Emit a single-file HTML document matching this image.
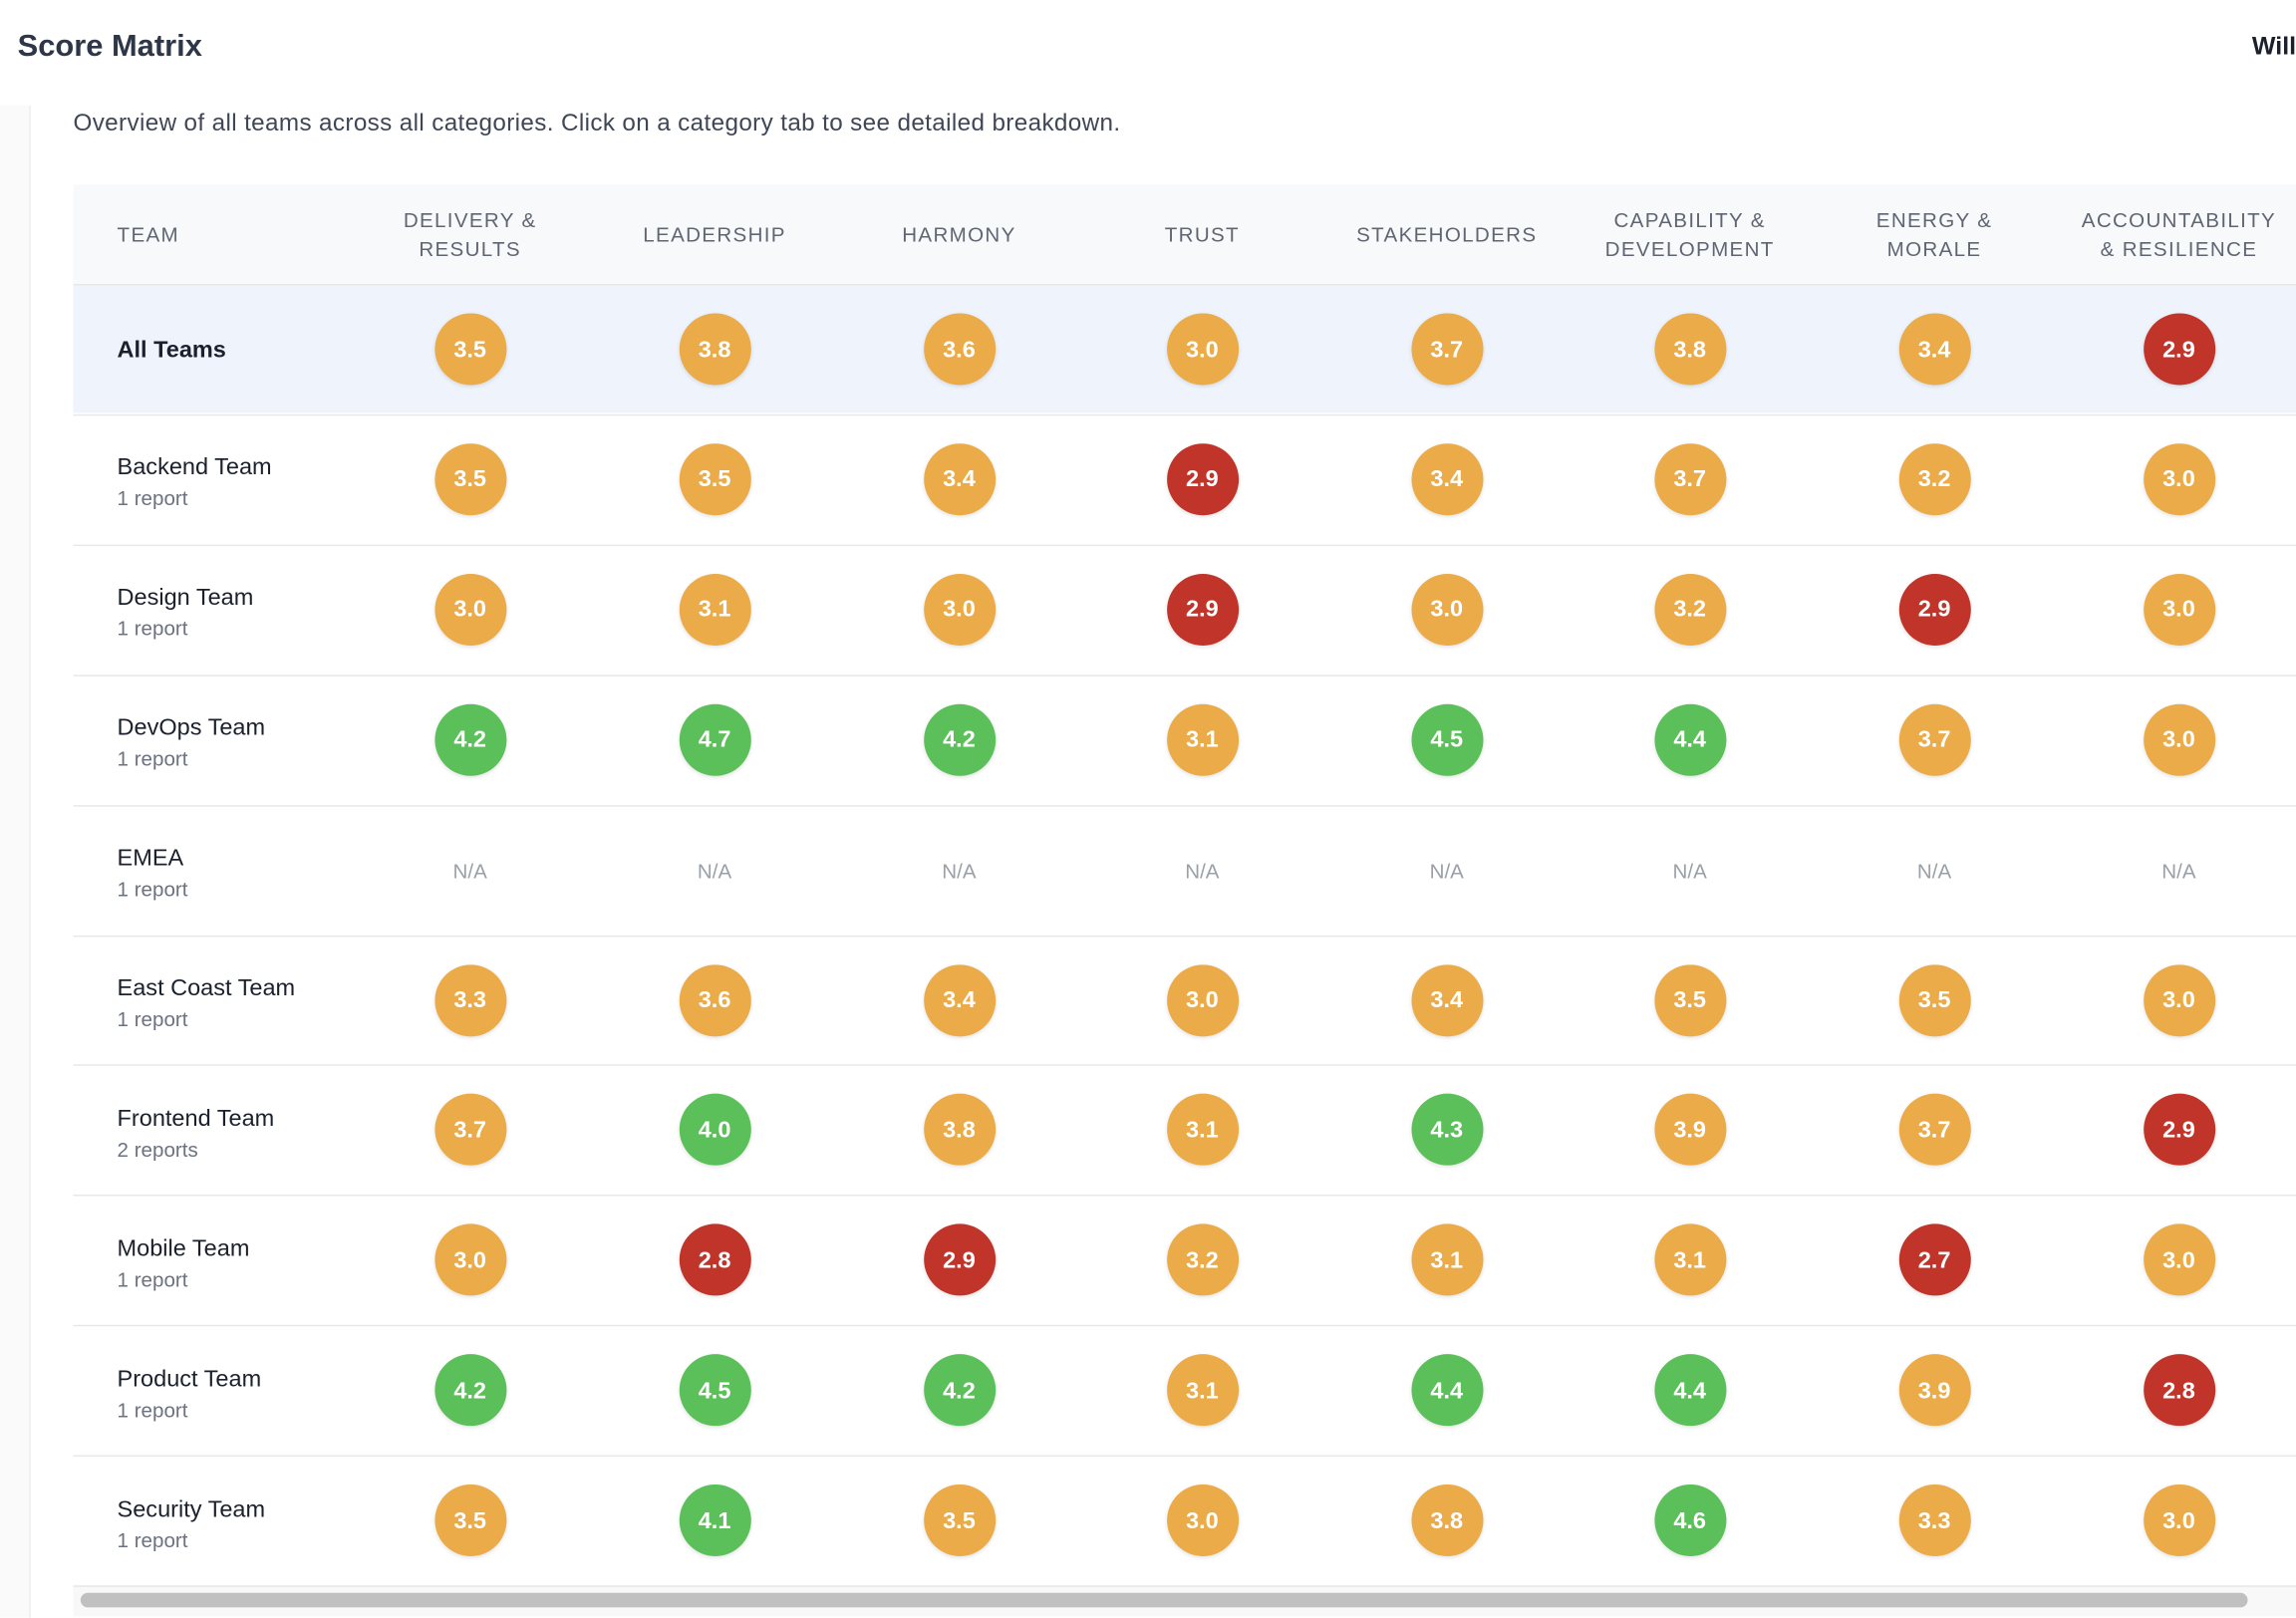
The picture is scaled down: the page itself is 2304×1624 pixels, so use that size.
<!DOCTYPE html>
<html><head><meta charset="utf-8"><style>
html,body{margin:0;padding:0;width:2304px;height:1624px;overflow:hidden;background:#fff;}
#w{position:absolute;left:0;top:0;width:1568px;height:1105px;transform:scale(1.46939);transform-origin:0 0;font-family:"Liberation Sans",sans-serif;overflow:hidden;}
.a{position:absolute;}
.h{position:absolute;top:126px;height:68px;display:flex;align-items:center;justify-content:center;text-align:center;font-size:14px;letter-spacing:0.9px;color:#5f6673;line-height:20px;width:166px;}
.c{position:absolute;width:49px;height:49px;border-radius:50%;color:#fff;font-size:16px;font-weight:bold;display:flex;align-items:center;justify-content:center;box-shadow:0 1px 3px rgba(0,0,0,0.12);padding-top:2px;box-sizing:border-box;}
.o{background:#eaab48}.g{background:#5cc05a}.r{background:#c0342a}
.na{position:absolute;width:60px;text-align:center;font-size:14px;color:#9aa0a8;}
.tn{position:absolute;left:80px;font-size:16px;color:#1a202c;}
.ts{position:absolute;left:80px;font-size:14px;color:#6b7280;}
.ln{position:absolute;left:50px;width:1518px;height:1px;background:#e6e8eb;}
</style></head><body><div id="w">
<div class="a" style="left:12px;top:20px;font-size:21px;font-weight:bold;color:#2d3748;">Score Matrix</div>
<div class="a" style="left:1538px;top:22px;font-size:17px;font-weight:bold;color:#1a202c;">Will</div>
<div class="a" style="left:0;top:72px;width:20px;height:1033px;background:#fafafa;border-right:1px solid #eceef0;"></div>
<div class="a" style="left:50px;top:75px;font-size:16.5px;letter-spacing:0.25px;color:#3f4756;">Overview of all teams across all categories. Click on a category tab to see detailed breakdown.</div>
<div class="a" style="left:50px;top:126px;width:1518px;height:68px;background:#f8f9fb;"></div>
<div class="a" style="left:50px;top:194px;width:1518px;height:88px;background:#eff4fc;"></div>
<div class="h" style="left:80px;width:auto;justify-content:flex-start">TEAM</div>
<div class="h" style="left:238px">DELIVERY &amp;<br>RESULTS</div>
<div class="h" style="left:405px">LEADERSHIP</div>
<div class="h" style="left:572px">HARMONY</div>
<div class="h" style="left:738px">TRUST</div>
<div class="h" style="left:905px">STAKEHOLDERS</div>
<div class="h" style="left:1071px">CAPABILITY &amp;<br>DEVELOPMENT</div>
<div class="h" style="left:1238px">ENERGY &amp;<br>MORALE</div>
<div class="h" style="left:1405px">ACCOUNTABILITY<br>&amp; RESILIENCE</div>
<div id="rows"></div>
<div class="a" style="left:50px;top:1083px;width:1518px;height:20px;background:#f8f8f8;border-top:1px solid #e6e6e6;"></div>
<div class="a" style="left:55px;top:1088px;width:1480px;height:10px;border-radius:5px;background:#c0c0c0;"></div>
</div>
<script>
var rows=[["All Teams","",["3.5","3.8","3.6","3.0","3.7","3.8","3.4","2.9"]],
["Backend Team","1 report",["3.5","3.5","3.4","2.9","3.4","3.7","3.2","3.0"]],
["Design Team","1 report",["3.0","3.1","3.0","2.9","3.0","3.2","2.9","3.0"]],
["DevOps Team","1 report",["4.2","4.7","4.2","3.1","4.5","4.4","3.7","3.0"]],
["EMEA","1 report",null],
["East Coast Team","1 report",["3.3","3.6","3.4","3.0","3.4","3.5","3.5","3.0"]],
["Frontend Team","2 reports",["3.7","4.0","3.8","3.1","4.3","3.9","3.7","2.9"]],
["Mobile Team","1 report",["3.0","2.8","2.9","3.2","3.1","3.1","2.7","3.0"]],
["Product Team","1 report",["4.2","4.5","4.2","3.1","4.4","4.4","3.9","2.8"]],
["Security Team","1 report",["3.5","4.1","3.5","3.0","3.8","4.6","3.3","3.0"]]];
var cx=[321,488,655,821,988,1154,1321,1488],h="";
h+='<div class="ln" style="top:194px"></div>';
rows.forEach(function(r,i){var top=194+i*88.9,cy=top+44.5;
if(i==0)h+='<div class="tn" style="top:'+(cy-8)+'px;font-weight:bold">'+r[0]+'</div>';
else{h+='<div class="tn" style="top:'+(cy-16)+'px">'+r[0]+'</div><div class="ts" style="top:'+(cy+5)+'px">'+r[1]+'</div>';}
cx.forEach(function(x,j){if(!r[2])h+='<div class="na" style="left:'+(x-30)+'px;top:'+(cy-7)+'px">N/A</div>';
else{var v=parseFloat(r[2][j]),k=v<3?'r':(v>=4?'g':'o');h+='<div class="c '+k+'" style="left:'+(x-24.5)+'px;top:'+(cy-24.5)+'px">'+r[2][j]+'</div>';}});
h+='<div class="ln" style="top:'+(top+88.9)+'px"></div>';});
document.getElementById('rows').innerHTML=h;
</script>
</body></html>
